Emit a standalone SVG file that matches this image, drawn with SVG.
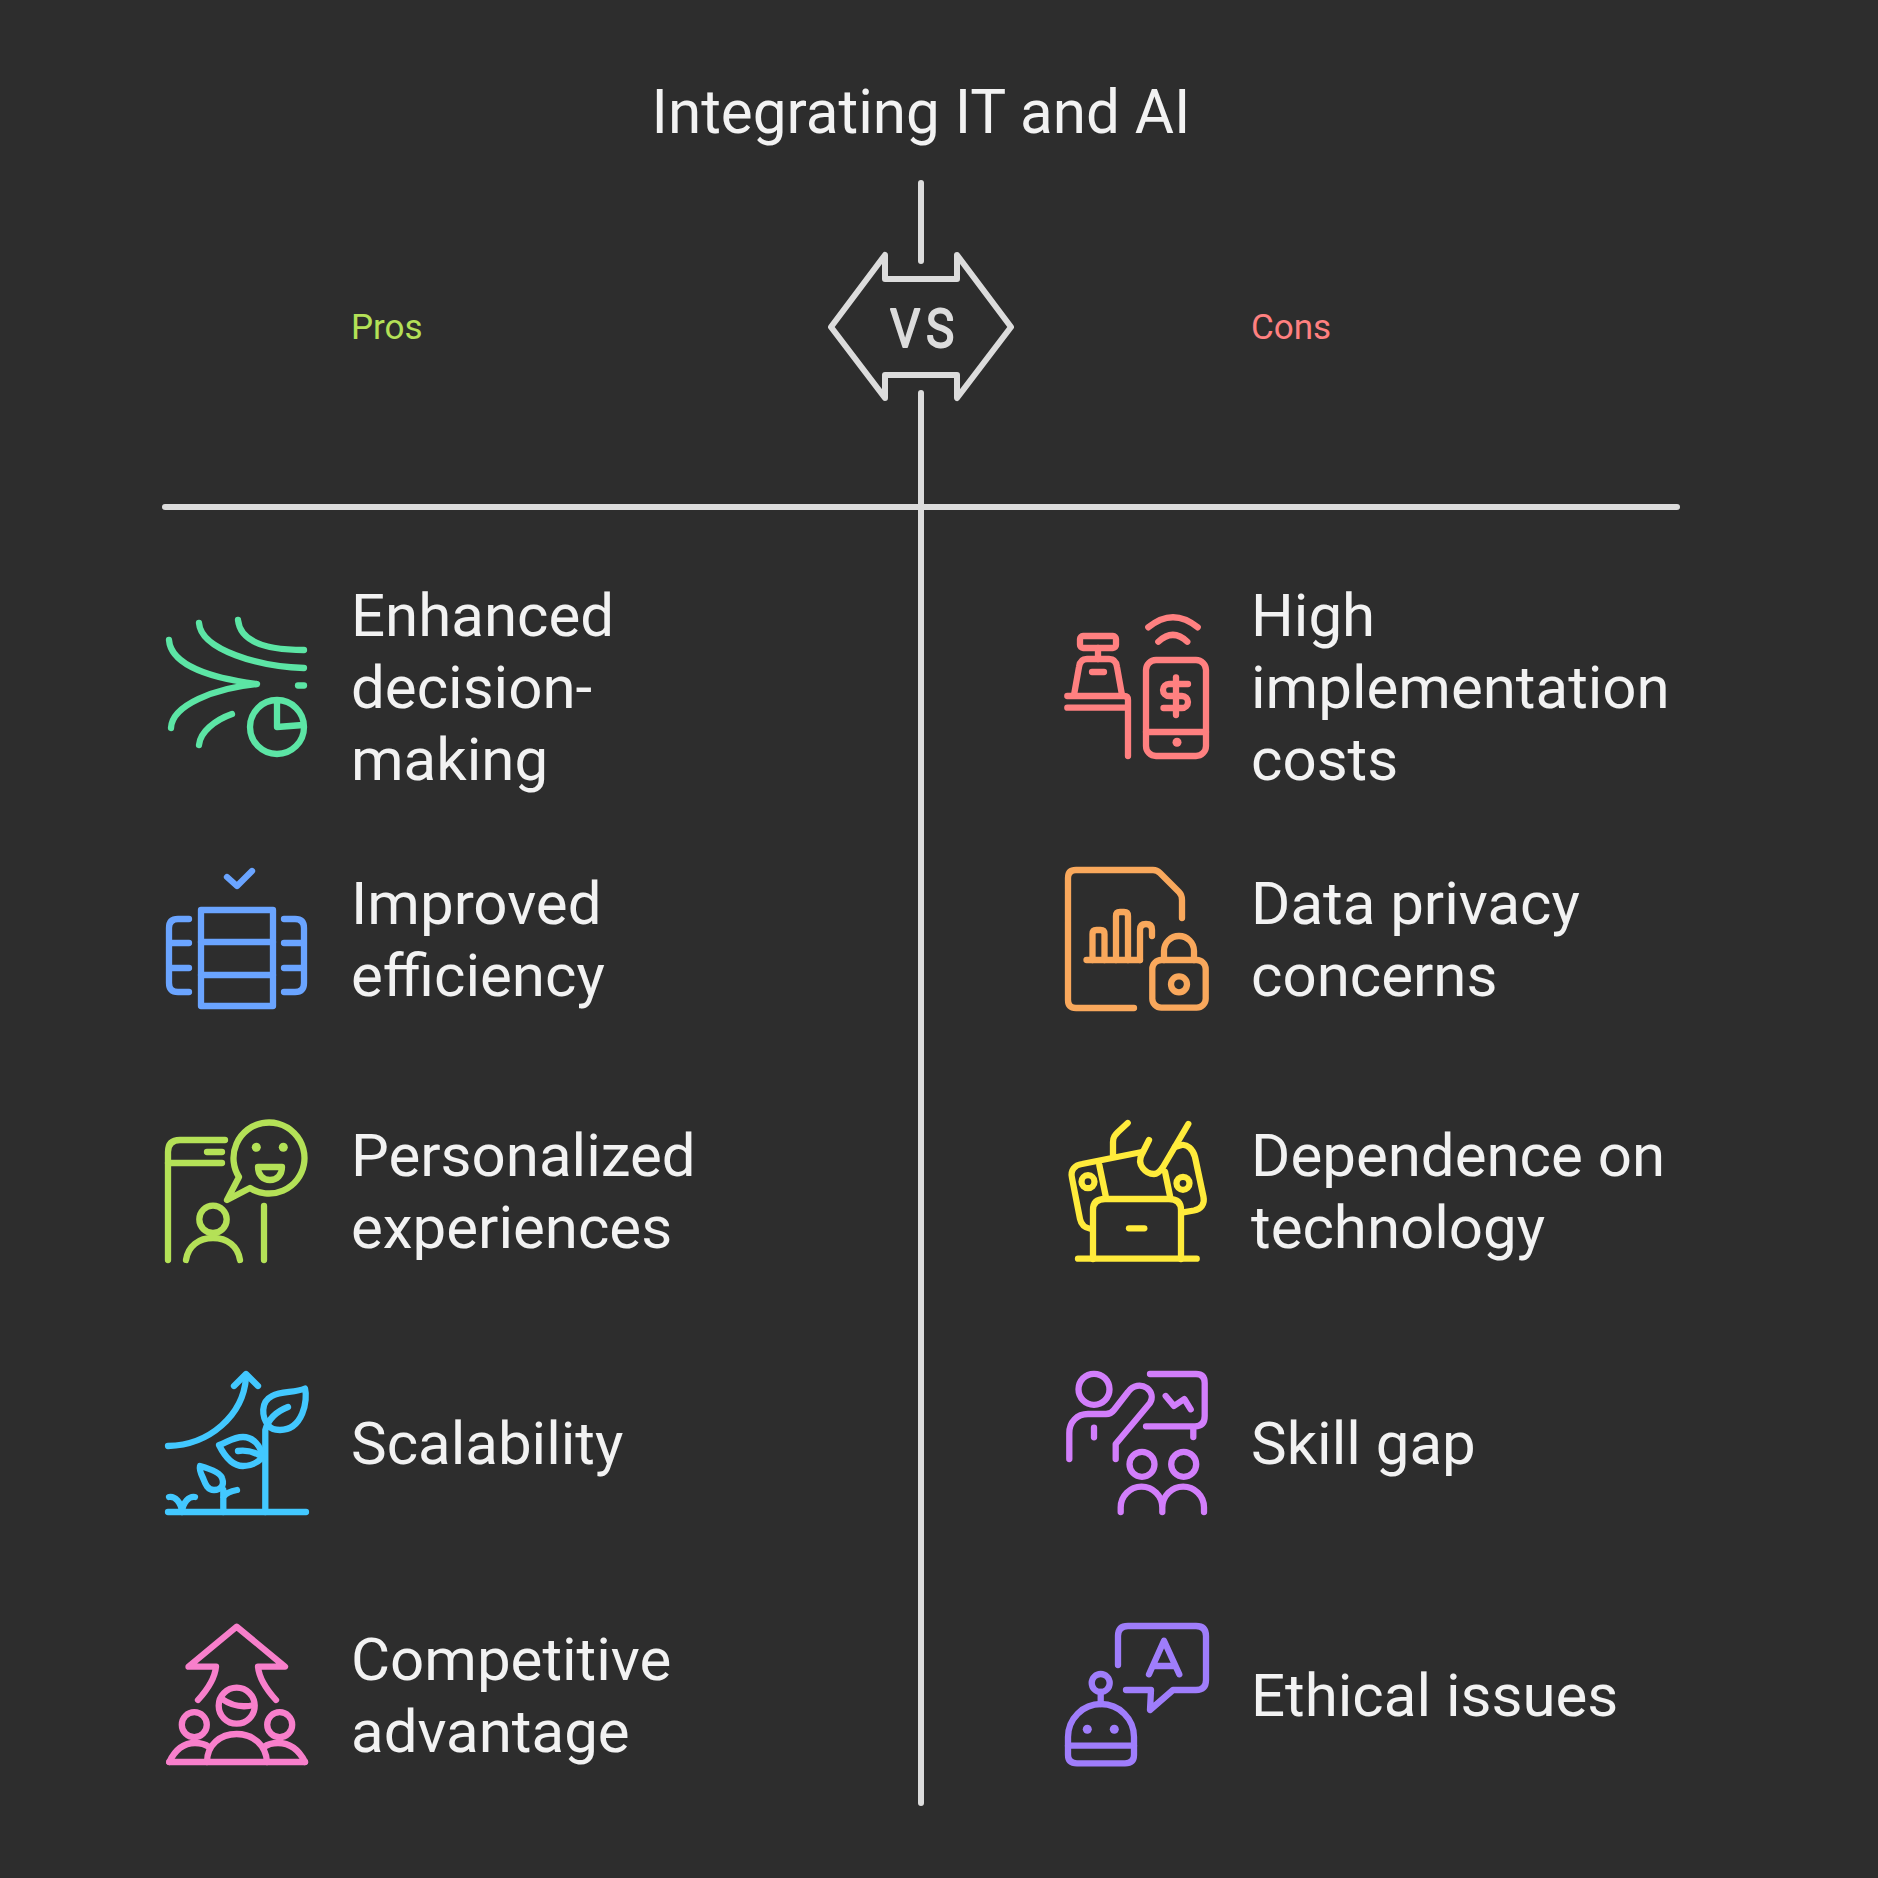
<svg xmlns="http://www.w3.org/2000/svg" width="1878" height="1878" viewBox="0 0 1878 1878">
<style>
text{font-family:Roboto,"Liberation Sans",sans-serif;fill:#f2f2f2}
.t{font-size:60px}
.h{font-size:35px}
.i{fill:none;stroke-width:6.300;stroke-linecap:round;stroke-linejoin:round}
.i .f{stroke:none}
.c{fill:none;stroke:#dcdcdc;stroke-width:6;stroke-linecap:round;stroke-linejoin:round}
</style>
<rect width="1878" height="1878" fill="#2d2d2d"/>
<text id="title" x="921" y="132.500" text-anchor="middle" style="font-size:60.200px">Integrating IT and AI</text>
<g id="connectors" class="c">
<path d="M921 183V261"/>
<path d="M921 393V1803"/>
<path d="M165 507H1677"/>
</g>
<g id="vs">
<path class="c" d="M831 327L885 255V279H957V255L1011 327L957 398V375H885V398Z"/>
<text transform="translate(890 346.500) scale(.88 1)" x="0 41" y="0" style="font-size:54px;fill:#dcdcdc;stroke:#dcdcdc;stroke-width:1.800;stroke-linejoin:round">VS</text>
</g>
<text id="pros" class="h" x="351" y="339" style="fill:#b4e157">Pros</text>
<text id="cons" class="h" x="1251" y="339" style="fill:#ff8080">Cons</text>

<g id="pro1">
<g class="i" stroke="#5ce5a5">
<path d="M238 620C240 640 262 650 304 650"/>
<path d="M199 623C201 650 260 667 304 668"/>
<path d="M169 640C171 665 210 678 257 684C215 688 172 705 171 728"/>
<path d="M232 714C215 720 200 732 199 745"/>
<path d="M298 685.500H304"/>
<circle cx="277" cy="727" r="27"/>
<path d="M277 703V727L303 725"/>
</g>
<text class="t" x="351" y="636">Enhanced</text>
<text class="t" x="351" y="708">decision-</text>
<text class="t" x="351" y="780">making</text>
</g>

<g id="pro2">
<g class="i" stroke="#6aa4ff">
<path d="M227 877L237 886L252 871"/>
<rect x="201" y="910" width="72" height="96"/>
<path d="M201 942H273M201 975H273"/>
<path d="M189 919H178Q169 919 169 928V983Q169 992 178 992H189M169 943H189M169 968H189"/>
<path d="M284 919H295Q304 919 304 928V983Q304 992 295 992H284M304 943H284M304 968H284"/>
</g>
<text class="t" x="351" y="924">Improved</text>
<text class="t" x="351" y="996">efficiency</text>
</g>

<g id="pro3">
<g class="i" stroke="#b4e157">
<path d="M168 1260V1152Q168 1140 180 1140H225"/>
<path d="M168 1163H222M207 1152H222"/>
<path d="M250 1188A35.500 35.500 0 1 0 239 1177L227 1200Z"/>
<path d="M258 1167H282C282 1175 277 1180 270 1180C263 1180 258 1175 258 1167Z"/>
<circle class="f" cx="256.300" cy="1147.300" r="4.500" fill="#b4e157"/>
<circle class="f" cx="283.300" cy="1147.300" r="4.500" fill="#b4e157"/>
<circle cx="213" cy="1219.300" r="13.700"/>
<path d="M186 1260C188 1246 199 1238 213 1238C227 1238 238 1246 240 1260"/>
<path d="M264 1206V1260"/>
</g>
<text class="t" x="351" y="1176">Personalized</text>
<text class="t" x="351" y="1248">experiences</text>
</g>

<g id="pro4">
<g class="i" stroke="#42c8ff">
<path d="M168 1512H306"/>
<path d="M168 1446C210 1445 243 1415 246 1378"/>
<path d="M234 1386L246 1374L258 1386"/>
<path d="M265.300 1512V1430C268 1420 275 1412 288 1407"/>
<path d="M268 1425C262 1417 260 1402 272 1396C282 1391 295 1393 305 1388.500C308 1400 303 1430 280 1430C275 1430 270 1428 268 1425Z"/>
<path d="M262 1458C262 1445 252 1437 243 1437C233 1437 226 1443 219 1445C224 1455 232 1466 243 1466C251 1466 258 1462 262 1458Z"/>
<path d="M238 1451C246 1450 252 1451 259 1455"/>
<path d="M200 1466C207 1468 220 1472 222 1478C225 1486 220 1490 214 1490C207 1490 205 1483 203 1478C201 1474 199 1470 200 1466Z"/>
<path d="M223.300 1512V1490M223.300 1497C226 1493 231 1491 237 1490"/>
<path d="M169 1497C175 1496 181 1502 182 1512M195 1497C189 1496 183 1502 182 1512"/>
</g>
<text class="t" x="351" y="1464">Scalability</text>
</g>

<g id="pro5">
<g class="i" stroke="#f87fcb">
<path d="M198 1700C208 1689 215 1677 216 1666.700H188.500L236.700 1626.700L285 1666.700H258C259 1677 266 1689 276 1700"/>
<circle cx="236.700" cy="1705.700" r="18"/>
<path d="M222 1699C232 1706 242 1708 254 1705"/>
<circle cx="194.300" cy="1724.700" r="12.500"/>
<circle cx="279.700" cy="1724.700" r="12.500"/>
<path d="M207 1762C207 1745 220 1734 236.700 1734C253 1734 266 1745 267 1762"/>
<path d="M169.300 1762H305"/>
<path d="M169.300 1762C175 1750 184 1743 195 1743C200 1743 205 1744 209 1747"/>
<path d="M305 1762C299 1750 290 1743 278 1743C273 1743 268 1744 264 1747"/>
</g>
<text class="t" x="351" y="1680">Competitive</text>
<text class="t" x="351" y="1752">advantage</text>
</g>

<g id="con1">
<g class="i" stroke="#ff8080">
<rect x="1080" y="636" width="36" height="12" rx="3"/>
<path d="M1098 648V659"/>
<path d="M1074 695L1079 667Q1080 659 1087 659H1109Q1116 659 1117 667L1122 695"/>
<path d="M1092 672H1104"/>
<path d="M1067.300 696H1124Q1128 696 1128 700V756"/>
<path d="M1067.300 707.700H1125"/>
<rect x="1146" y="660" width="60" height="96" rx="10"/>
<path d="M1146 732H1206"/>
<circle class="f" cx="1177" cy="742.300" r="4.500" fill="#ff8080"/>
<path d="M1176 677.300V715"/>
<path d="M1188 684H1169A6 6 0 0 0 1169 696H1182A6 6 0 0 1 1182 708H1163.500"/>
<path d="M1148.300 627.300Q1173 607 1197.700 627.300"/>
<path d="M1158.300 641.700Q1173 628 1187.300 641.700"/>
</g>
<text class="t" x="1251" y="636">High</text>
<text class="t" x="1251" y="708">implementation</text>
<text class="t" x="1251" y="780">costs</text>
</g>

<g id="con2">
<g class="i" stroke="#f9a85c">
<path d="M1134 1008H1076Q1068 1008 1068 1000V878Q1068 870 1076 870H1153Q1157 870 1160 873L1179 892Q1182 895 1182 900V918"/>
<path d="M1086.500 960H1140"/>
<path d="M1092.500 960V934Q1092.500 930 1096.500 930H1100.500Q1104.500 930 1104.500 934V960"/>
<path d="M1116 960V916Q1116 912 1120 912H1124Q1128 912 1128 916V960"/>
<path d="M1140 960V930Q1140 924 1146 924Q1152 924 1152 930V936"/>
<rect x="1152.300" y="960" width="53.400" height="47.700" rx="9"/>
<path d="M1164 960V951A15 15 0 0 1 1194 951V960"/>
<circle cx="1179" cy="984.300" r="8"/>
</g>
<text class="t" x="1251" y="924">Data privacy</text>
<text class="t" x="1251" y="996">concerns</text>
</g>

<g id="con3">
<g class="i" stroke="#ffeb3b">
<path d="M1078 1258.700H1196.700"/>
<path d="M1093 1259V1210Q1093 1199 1105 1199H1169Q1181 1199 1181 1210V1259"/>
<path d="M1129 1228.300H1144.300"/>
<path d="M1091 1229C1085 1228 1081 1224 1080 1219L1072 1178C1070 1170 1075 1165 1082 1164L1142 1152"/>
<path d="M1099.300 1165L1105.700 1196M1165 1171.700L1170 1196"/>
<path d="M1181.700 1212.700L1194 1210.500C1201 1209 1205 1204 1203.500 1197L1195 1157C1193 1149 1187 1144 1181.700 1145L1175 1147"/>
<circle cx="1088" cy="1181.700" r="6.500"/>
<circle cx="1183" cy="1183.300" r="6.500"/>
<path d="M1149 1140L1142 1154C1136 1165 1146 1174 1154 1174C1158 1174 1161 1170 1163 1167L1188.300 1124"/>
<path d="M1113 1155V1142C1113 1137 1115 1135 1118 1132L1127.700 1123"/>
</g>
<text class="t" x="1251" y="1176">Dependence on</text>
<text class="t" x="1251" y="1248">technology</text>
</g>

<g id="con4">
<g class="i" stroke="#d27efb">
<circle cx="1094" cy="1389.300" r="15.500"/>
<path d="M1150 1374H1196Q1204.700 1374 1204.700 1383V1416Q1204.700 1426.300 1195 1426.300H1146"/>
<path d="M1193.300 1428V1437"/>
<path d="M1165.700 1396L1174 1406L1184.300 1399L1190.700 1409.300"/>
<path d="M1069.300 1459V1433C1069.300 1422 1077 1414 1088 1414H1106Q1111 1414 1114 1410L1128 1392C1133 1385 1141 1384 1147 1388C1152 1392 1153 1398 1150 1403L1115.700 1444V1459"/>
<path d="M1094 1427.700V1437.300"/>
<circle cx="1142" cy="1464.300" r="12.500"/>
<circle cx="1183.700" cy="1464.300" r="12.500"/>
<path d="M1120.700 1512V1507.500A20.800 20.800 0 0 1 1162.300 1507.500V1512M1162.300 1507.500A20.800 20.800 0 0 1 1204 1507.500V1512"/>
</g>
<text class="t" x="1251" y="1464">Skill gap</text>
</g>

<g id="con5">
<g class="i" stroke="#9f7dfb">
<path d="M1118 1665V1636Q1118 1626 1128 1626H1196Q1206 1626 1206 1636V1680Q1206 1690 1196 1690H1173L1150 1710L1151 1690H1126"/>
<path d="M1149 1674.300L1164 1640.700L1179.300 1674.300M1153.300 1666H1175.300"/>
<circle cx="1100.700" cy="1683" r="9"/>
<path d="M1100.700 1692V1704"/>
<path d="M1068 1737A33 33 0 0 1 1134 1737V1755Q1134 1763.300 1125 1763.300H1077Q1068 1763.300 1068 1755Z"/>
<path d="M1068 1745.700H1134"/>
<circle class="f" cx="1087.300" cy="1729.300" r="4.500" fill="#9f7dfb"/>
<circle class="f" cx="1114.300" cy="1729.300" r="4.500" fill="#9f7dfb"/>
</g>
<text class="t" x="1251" y="1716">Ethical issues</text>
</g>
</svg>
